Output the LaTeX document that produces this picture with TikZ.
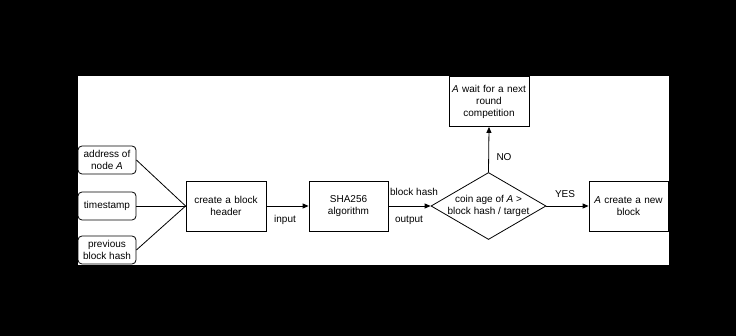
\documentclass[tikz,border=0pt]{standalone}
\usepackage{fontspec}
\setmainfont{Liberation Sans}
\usetikzlibrary{shapes.geometric,arrows.meta}
\begin{document}
\begin{tikzpicture}[x=1pt,y=-1pt,
  every node/.style={font=\fontsize{10}{12}\selectfont, inner sep=0pt},
  inbox/.style={draw, rounded corners=4pt, line width=0.8pt, minimum width=58pt, minimum height=28pt, align=center},
  procbox/.style={draw, line width=0.8pt, minimum width=80pt, minimum height=50pt, align=center, text width=78pt},
  decision/.style={draw, diamond, line width=0.8pt, minimum width=115pt, minimum height=67pt, inner sep=0pt},
  conn/.style={line width=0.8pt},
  arr/.style={line width=0.8pt, -{Triangle[length=6pt,width=5pt]}},
  lbl/.style={font=\fontsize{10}{12}\selectfont}
]
\useasboundingbox (0,0) rectangle (736,336);
\fill[black] (0,0) rectangle (736,336);
\fill[white] (78,76) rectangle (669,265);

\node[inbox] (addr) at (107,160) {address of\\node \textit{A}};
\node[inbox] (ts) at (107,206) {timestamp};
\node[inbox] (prev) at (107,250) {previous\\block hash};

\node[procbox] (hdr) at (226,206) {create a block\\header};
\node[procbox, minimum width=79pt] (sha) at (348.5,206) {SHA256\\algorithm};
\node[decision] (dec) at (488.5,206) {};
\node[align=center] (dectext) at (dec.center) {coin age of \textit{A} >\\block hash / target};
\node[procbox] (wait) at (489,101.5) {\textit{A} wait for a next\\round\\competition};
\node[procbox, minimum width=79pt] (new) at (628.5,206) {\textit{A} create a new\\block};

\draw[conn] (addr.east) -- (hdr.west);
\draw[conn] (ts.east) -- (hdr.west);
\draw[conn] (prev.east) -- (hdr.west);
\draw[arr] (hdr.east) -- (sha.west);
\draw[arr] (sha.east) -- (dec.west);
\draw[arr] (dec.north) -- (wait.south);
\draw[arr] (dec.east) -- (new.west);

\node[lbl] (linput) at (285,220) {input};
\node[lbl] (lhash) at (414,192) {block hash};
\node[lbl] (lout) at (409,220) {output};
\node[lbl] (lno) at (504,157) {NO};
\node[lbl] (lyes) at (565,194) {YES};
\end{tikzpicture}
\end{document}
